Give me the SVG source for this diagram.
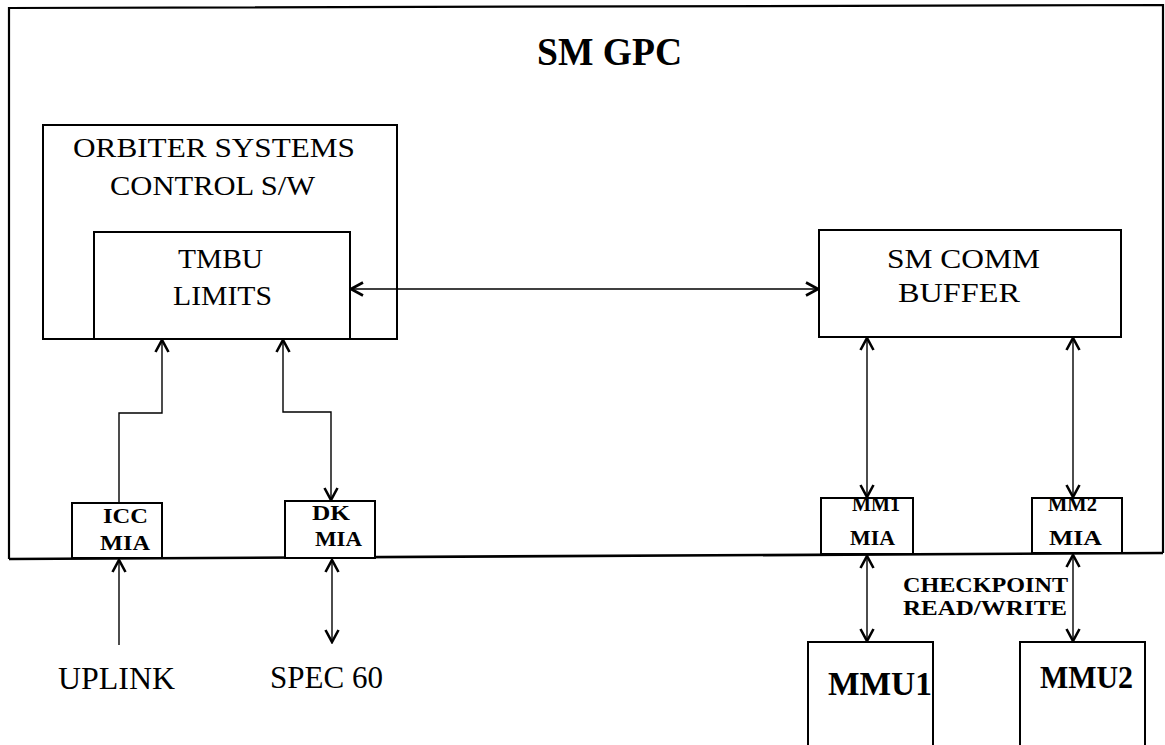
<svg xmlns="http://www.w3.org/2000/svg" width="1165" height="745" viewBox="0 0 1165 745">
<style>
.bx{fill:#fff;stroke:#000;stroke-width:2}
.c{fill:none;stroke:#000;stroke-width:1.4}
.t{font-family:"Liberation Serif","Times New Roman",serif;fill:#000;text-anchor:start}
.b{font-weight:bold}
</style>
<defs>
<marker id="ah" viewBox="-14 -8 16 16" refX="0" refY="0" markerWidth="16" markerHeight="16" markerUnits="userSpaceOnUse" orient="auto-start-reverse">
<path d="M-12,-6.5 L0,0 L-12,6.5" fill="none" stroke="#000" stroke-width="2.6"/>
</marker>
</defs>
<rect width="1165" height="745" fill="#fff"/>
<g id="sm-gpc">
<path d="M9,559 L9,8 L1163,5 L1163,553" fill="none" stroke="#000" stroke-width="2.2"/>
<line x1="9" y1="559" x2="1163" y2="553" stroke="#000" stroke-width="2.6"/>
<text class="t b" x="537" y="65" font-size="41" textLength="145" lengthAdjust="spacingAndGlyphs">SM GPC</text>
</g>
<g id="orbiter">
<rect class="bx" x="43" y="125" width="354" height="214"/>
<text class="t" x="73" y="157" font-size="27" textLength="282" lengthAdjust="spacingAndGlyphs">ORBITER SYSTEMS</text>
<text class="t" x="110" y="195" font-size="27" textLength="205" lengthAdjust="spacingAndGlyphs">CONTROL S/W</text>
</g>
<g id="tmbu">
<rect class="bx" x="94" y="232" width="256" height="107"/>
<text class="t" x="178" y="268" font-size="27" textLength="85" lengthAdjust="spacingAndGlyphs">TMBU</text>
<text class="t" x="173" y="305" font-size="27" textLength="99" lengthAdjust="spacingAndGlyphs">LIMITS</text>
</g>
<g id="sm-comm">
<rect class="bx" x="819" y="230" width="302" height="107"/>
<text class="t" x="887" y="268" font-size="27" textLength="153" lengthAdjust="spacingAndGlyphs">SM COMM</text>
<text class="t" x="898" y="302" font-size="27" textLength="122" lengthAdjust="spacingAndGlyphs">BUFFER</text>
</g>
<g id="icc-mia">
<rect class="bx" x="72" y="503" width="90" height="55"/>
<text class="t b" x="103" y="523" font-size="22" textLength="45" lengthAdjust="spacingAndGlyphs">ICC</text>
<text class="t b" x="100" y="550" font-size="22" textLength="50" lengthAdjust="spacingAndGlyphs">MIA</text>
</g>
<g id="dk-mia">
<rect class="bx" x="285" y="501" width="90" height="57"/>
<text class="t b" x="312" y="520" font-size="20" textLength="38" lengthAdjust="spacingAndGlyphs">DK</text>
<text class="t b" x="315" y="546" font-size="21" textLength="47" lengthAdjust="spacingAndGlyphs">MIA</text>
</g>
<g id="mm1-mia">
<rect class="bx" x="821" y="498" width="92" height="56"/>
<text class="t b" x="852" y="511" font-size="22" textLength="48" lengthAdjust="spacingAndGlyphs">MM1</text>
<text class="t b" x="850" y="545" font-size="22" textLength="45" lengthAdjust="spacingAndGlyphs">MIA</text>
</g>
<g id="mm2-mia">
<rect class="bx" x="1032" y="498" width="90" height="55"/>
<text class="t b" x="1048" y="511" font-size="22" textLength="49" lengthAdjust="spacingAndGlyphs">MM2</text>
<text class="t b" x="1049" y="545" font-size="22" textLength="53" lengthAdjust="spacingAndGlyphs">MIA</text>
</g>
<g id="mmu1">
<rect class="bx" x="808" y="642" width="125" height="110"/>
<text class="t b" x="828" y="695" font-size="33" textLength="104" lengthAdjust="spacingAndGlyphs">MMU1</text>
</g>
<g id="mmu2">
<rect class="bx" x="1020" y="642" width="125" height="110"/>
<text class="t b" x="1040" y="688" font-size="32" textLength="93" lengthAdjust="spacingAndGlyphs">MMU2</text>
</g>
<g id="uplink">
<text class="t" x="58" y="689" font-size="31" textLength="117" lengthAdjust="spacingAndGlyphs">UPLINK</text>
</g>
<g id="spec60">
<text class="t" x="270" y="688" font-size="31" textLength="113" lengthAdjust="spacingAndGlyphs">SPEC 60</text>
</g>
<g id="connectors">
<line class="c" x1="351" y1="289" x2="818" y2="289" marker-start="url(#ah)" marker-end="url(#ah)"/>
<polyline class="c" points="119,503 119,413 162,413 162,340" marker-end="url(#ah)"/>
<polyline class="c" points="283,340 283,412 331,412 331,500" marker-start="url(#ah)" marker-end="url(#ah)"/>
<line class="c" x1="119" y1="645" x2="119" y2="560" marker-end="url(#ah)"/>
<line class="c" x1="332" y1="560" x2="332" y2="642" marker-start="url(#ah)" marker-end="url(#ah)"/>
<line class="c" x1="867" y1="338" x2="867" y2="497" marker-start="url(#ah)" marker-end="url(#ah)"/>
<line class="c" x1="1073" y1="338" x2="1073" y2="497" marker-start="url(#ah)" marker-end="url(#ah)"/>
<line class="c" x1="867" y1="556" x2="867" y2="641" marker-start="url(#ah)" marker-end="url(#ah)"/>
<line class="c" x1="1073" y1="555" x2="1073" y2="641" marker-start="url(#ah)" marker-end="url(#ah)"/>
<text class="t b" x="903" y="592" font-size="20" textLength="165" lengthAdjust="spacingAndGlyphs">CHECKPOINT</text>
<text class="t b" x="903" y="615" font-size="20" textLength="164" lengthAdjust="spacingAndGlyphs">READ/WRITE</text>
</g>
</svg>
